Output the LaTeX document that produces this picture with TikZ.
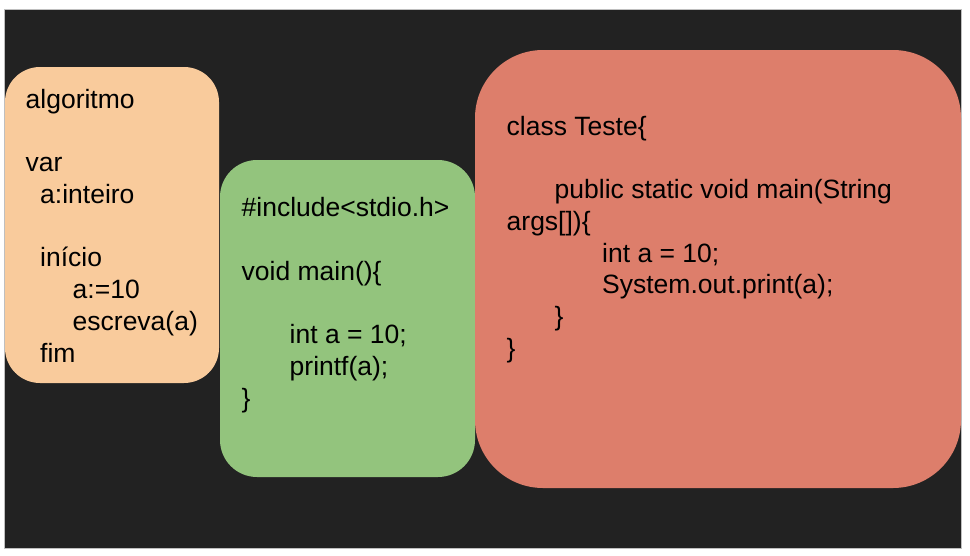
\documentclass[tikz,border=0pt]{standalone}
\usepackage{fontspec}
\setmainfont{Liberation Sans}
\definecolor{slidebg}{HTML}{222222}
\definecolor{algfill}{HTML}{F9CB9C}
\definecolor{cfill}{HTML}{93C47D}
\definecolor{javafill}{HTML}{DD7E6B}
\tikzset{
  codeline/.style={anchor=base west, inner sep=0pt, text=black,
    font=\fontsize{26.5}{31.75}\selectfont},
}
\begin{document}
\begin{tikzpicture}[x=1pt,y=-1pt]
      \useasboundingbox (0,0) rectangle (970,555);
      \fill[white] (0,0) rectangle (970,555);
      \draw[fill=slidebg, draw=black!25] (4.5,9.5) rectangle (961,548);
      \fill[algfill, rounded corners=35] (5,67) rectangle (219,383);
      \fill[cfill, rounded corners=37] (220,160) rectangle (475,477);
      \fill[javafill, rounded corners=68] (475,50) rectangle (961,488);
      \begin{scope}[every node/.style=codeline]
        \path
          (25.5,108) node (alg0){algoritmo}
          (25.5,171.5) node (alg2){var}
          (40,203.25) node (alg3){a:inteiro}
          (40,266.75) node (alg5){início}
          (72.5,298.5) node (alg6){a:=10}
          (72.5,330.25) node (alg7){escreva(a)}
          (40,362) node (alg8){fim};
        \path
          (241.5,216.5) node (c0){\#include<stdio.h>}
          (241.5,280) node (c2){void main()\{}
          (289.5,343.5) node (c4){int a = 10;}
          (289.5,375.25) node (c5){printf(a);}
          (241.5,407) node (c6){\}};
        \path
          (506.5,135) node (java0){class Teste\{}
          (554.5,198.5) node (java2){public static void main(String}
          (506.5,230.25) node (java3){args[])\{}
          (602,262) node (java4){int a = 10;}
          (602,293.75) node (java5){System.out.print(a);}
          (554.5,325.5) node (java6){\}}
          (506.5,357.25) node (java7){\}};
      \end{scope}
    \end{tikzpicture}
\end{document}
